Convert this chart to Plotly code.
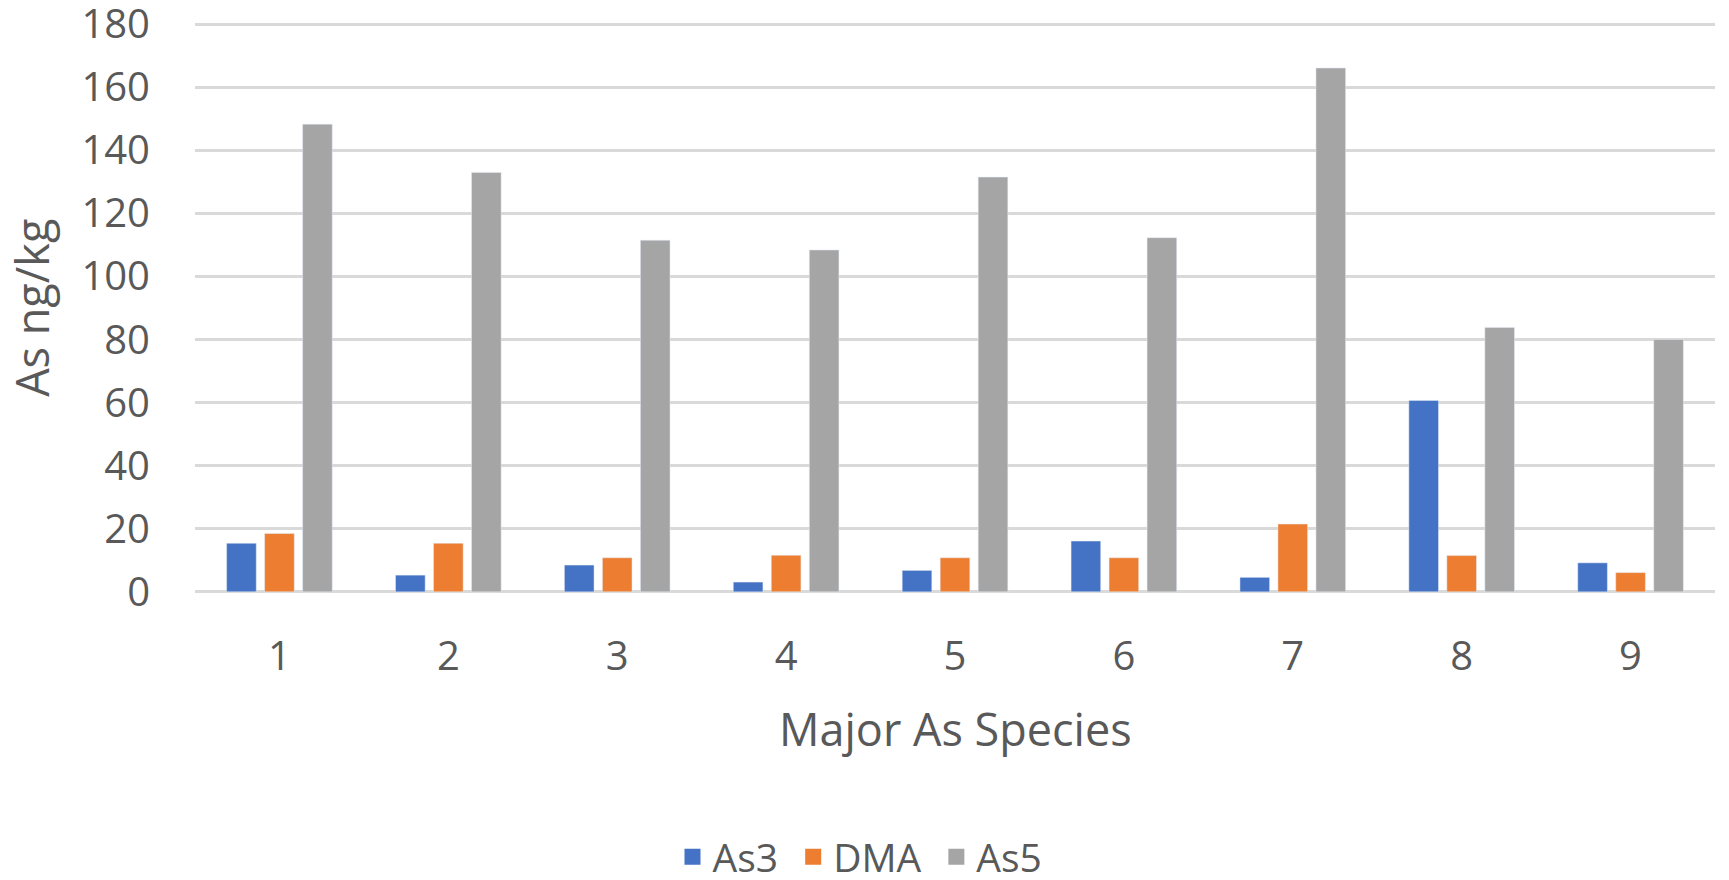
import plotly.graph_objects as go

categories = ["1", "2", "3", "4", "5", "6", "7", "8", "9"]
as3 = [15.4, 5.3, 8.5, 3.1, 6.8, 16.1, 4.6, 60.7, 9.2]
dma = [18.5, 15.4, 10.8, 11.6, 10.8, 10.8, 21.5, 11.5, 6.1]
as5 = [148.3, 133.0, 111.5, 108.4, 131.5, 112.3, 166.1, 83.8, 80.0]
y_ticks = [0, 20, 40, 60, 80, 100, 120, 140, 160, 180]
series_names = ["As3", "DMA", "As5"]
colors = ["#4472C4", "#ED7D31", "#A5A5A5"]

FONT = "Open Sans"
TXT = "#595959"
W, H = 1721, 872  # page body has an 8px margin

fig = go.Figure()
for name, vals, col in zip(series_names, [as3, dma, as5], colors):
    fig.add_trace(go.Bar(name=name, x=categories, y=vals, marker_color=col,
                         legendgroup=name, showlegend=False))
for name, col in zip(series_names, colors):
    fig.add_trace(go.Scatter(name=name + "\u00a0", x=[None], y=[None], mode="markers",
                             marker=dict(symbol="square", size=22, color=col),
                             legendgroup=name, showlegend=True))

fig.update_layout(
    width=W, height=H,
    paper_bgcolor="white", plot_bgcolor="white",
    margin=dict(l=187, r=14, t=13, b=285, autoexpand=False),
    barmode="group", bargap=0.325, bargroupgap=0.22,
    font=dict(family=FONT, color=TXT, size=40),
    showlegend=True,
    legend=dict(orientation="h", x=857 / W, y=1 - 849 / H, xref="container", yref="container",
                xanchor="center", yanchor="middle",
                font=dict(size=39, color=TXT), itemsizing="trace", itemwidth=30,
                tracegroupgap=0),
    xaxis=dict(showgrid=False, showline=False, zeroline=False, automargin=False,
               tickfont=dict(size=40, color=TXT), ticklabelstandoff=34,
               ticklabeloverflow="allow"),
    yaxis=dict(range=[-1, 181], tickvals=y_ticks, showgrid=True, gridcolor="#D9D9D9",
               gridwidth=3, zeroline=False, showline=False, automargin=False,
               tickfont=dict(size=40, color=TXT), ticklabelstandoff=44,
               ticklabeloverflow="allow"),
    annotations=[
        dict(text="As ng/kg", xref="paper", yref="paper", x=-0.108, y=0.5,
             textangle=-90, showarrow=False, xanchor="center", yanchor="middle",
             font=dict(size=45, color=TXT)),
        dict(text="Major As Species", xref="paper", yref="paper", x=0.5, y=-0.233,
             showarrow=False, xanchor="center", yanchor="middle",
             font=dict(size=45, color=TXT)),
    ],
)

fig.write_html("out.html")
